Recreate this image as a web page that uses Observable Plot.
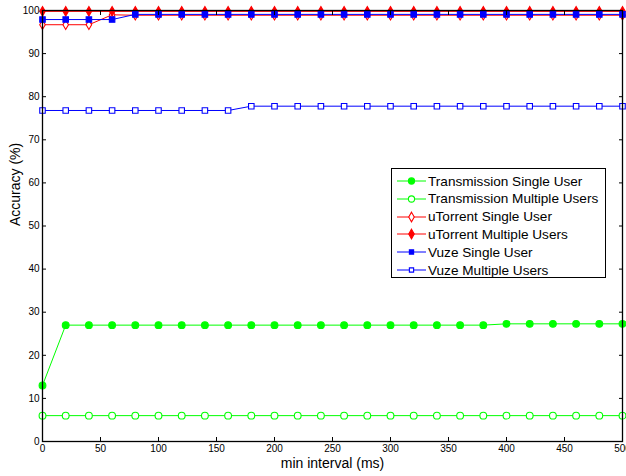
<!DOCTYPE html>
<html>
<head>
<meta charset="utf-8">
<script src="https://cdn.jsdelivr.net/npm/d3@7"></script>
<script src="https://cdn.jsdelivr.net/npm/@observablehq/plot@0.6"></script>
<style>
  html, body { margin: 0; padding: 0; background: #fff; }
  #wrap { position: relative; width: 626px; height: 476px; font-family: "Liberation Sans", Arial, sans-serif; }
  #legend { position: absolute; left: 391px; top: 168px; width: 213px; height: 108px; border: 1px solid #000; background: #fff; }
  .row { position: absolute; left: 0; height: 18px; display: flex; align-items: center; font-size: 13.6px; color: #000; white-space: nowrap; }
  .row svg { margin-left: 5px; margin-right: 1px; }
</style>
</head>
<body>
<div id="wrap"></div>
<script>
const intervals = [0,20,40,60,80,100,120,140,160,180,200,220,240,260,280,300,320,340,360,380,400,420,440,460,480,500];
const transmissionSingle   = [13,27,27,27,27,27,27,27,27,27,27,27,27,27,27,27,27,27,27,27,27.3,27.3,27.3,27.3,27.3,27.3];
const transmissionMultiple = [6,6,6,6,6,6,6,6,6,6,6,6,6,6,6,6,6,6,6,6,6,6,6,6,6,6];
const utorrentSingle       = [96.7,96.7,96.7,99,98.9,98.9,98.9,98.9,98.9,98.9,98.9,98.9,98.9,98.9,98.9,98.9,98.9,98.9,98.9,98.9,98.9,98.9,98.9,98.9,98.9,98.9];
const utorrentMultiple     = [99.8,99.8,99.8,99.8,99.8,99.8,99.8,99.8,99.8,99.8,99.8,99.8,99.8,99.8,99.8,99.8,99.8,99.8,99.8,99.8,99.8,99.8,99.8,99.8,99.8,99.8];
const vuzeSingle           = [97.9,97.9,97.9,97.9,99.1,99.1,99.1,99.1,99.1,99.1,99.1,99.1,99.1,99.1,99.1,99.1,99.1,99.1,99.1,99.1,99.1,99.1,99.1,99.1,99.1,99.1];
const vuzeMultiple         = [76.8,76.8,76.8,76.8,76.8,76.8,76.8,76.8,76.8,77.8,77.8,77.8,77.8,77.8,77.8,77.8,77.8,77.8,77.8,77.8,77.8,77.8,77.8,77.8,77.8,77.8];
const seriesNames = ["Transmission Single User","Transmission Multiple Users","uTorrent Single User","uTorrent Multiple Users","Vuze Single User","Vuze Multiple Users"];
const xTicks = [0,50,100,150,200,250,300,350,400,450,500];
const yTicks = [0,10,20,30,40,50,60,70,80,90,100];
const xLabel = "min interval (ms)";
const yLabel = "Accuracy (%)";

const styles = [
  {color: "#00ff00", symbol: "circle", filled: true},
  {color: "#00ff00", symbol: "circle", filled: false},
  {color: "#ff0000", symbol: "diamond", filled: false},
  {color: "#ff0000", symbol: "diamond", filled: true},
  {color: "#0000ff", symbol: "square", filled: true},
  {color: "#0000ff", symbol: "square", filled: false}
];
const radius = {circle: 3.4, diamond: 2.9, square: 3.1};
const allValues = [transmissionSingle, transmissionMultiple, utorrentSingle, utorrentMultiple, vuzeSingle, vuzeMultiple];

const marks = [];
allValues.forEach((vals, i) => {
  const data = intervals.map((x, j) => ({x, y: vals[j]}));
  const s = styles[i];
  marks.push(Plot.line(data, {x: "x", y: "y", stroke: s.color, strokeWidth: 1}));
  marks.push(Plot.dot(data, {x: "x", y: "y", symbol: s.symbol, r: radius[s.symbol],
    stroke: s.color, fill: s.filled ? s.color : "white", strokeWidth: 1.1}));
});

const chart = Plot.plot({
  width: 626, height: 476,
  marginLeft: 42, marginRight: 4, marginTop: 10, marginBottom: 35,
  style: {fontFamily: "Liberation Sans, Arial, sans-serif", fontSize: "10px", color: "#000", background: "white"},
  x: {domain: [0, 500]},
  y: {domain: [0, 100]},
  marks: [
    ...marks,
    Plot.axisX(xTicks, {anchor: "bottom", tickSize: -4, tickPadding: 7, label: null, fontSize: 10}),
    Plot.axisX(xTicks, {anchor: "top", tickSize: -4, tickFormat: () => "", label: null}),
    Plot.axisY(yTicks, {anchor: "left", tickSize: -4, tickPadding: 7, label: null, fontSize: 10}),
    Plot.axisY(yTicks, {anchor: "right", tickSize: -4, tickFormat: () => "", label: null}),
    Plot.frame({stroke: "#000", strokeWidth: 1.3}),
    Plot.text([xLabel], {frameAnchor: "bottom", dy: 26, fontSize: 14, text: d => d}),
    Plot.text([yLabel], {frameAnchor: "left", dx: -27, rotate: -90, fontSize: 14, text: d => d})
  ]
});

const wrap = document.getElementById("wrap");
wrap.appendChild(chart);

const legend = document.createElement("div");
legend.id = "legend";
seriesNames.forEach((name, i) => {
  const s = styles[i];
  const row = document.createElement("div");
  row.className = "row";
  row.style.top = (3 + i * 17.8) + "px";
  const svg = d3.create("svg").attr("width", 30).attr("height", 12);
  svg.append("line").attr("x1", 0).attr("x2", 29).attr("y1", 6).attr("y2", 6).attr("stroke", s.color).attr("stroke-width", 1);
  const sym = s.symbol === "circle" ? d3.symbolCircle : s.symbol === "diamond" ? d3.symbolDiamond : d3.symbolSquare;
  const r = s.symbol === "diamond" ? 2.9 : (s.symbol === "square" ? 2.4 : 3.1);
  svg.append("path").attr("d", d3.symbol(sym, Math.PI * r * r)()).attr("transform", "translate(14.5,6)")
    .attr("stroke", s.color).attr("fill", s.filled ? s.color : "white").attr("stroke-width", 1.1);
  row.appendChild(svg.node());
  const span = document.createElement("span");
  span.textContent = name;
  row.appendChild(span);
  legend.appendChild(row);
});
wrap.appendChild(legend);
</script>
</body>
</html>
